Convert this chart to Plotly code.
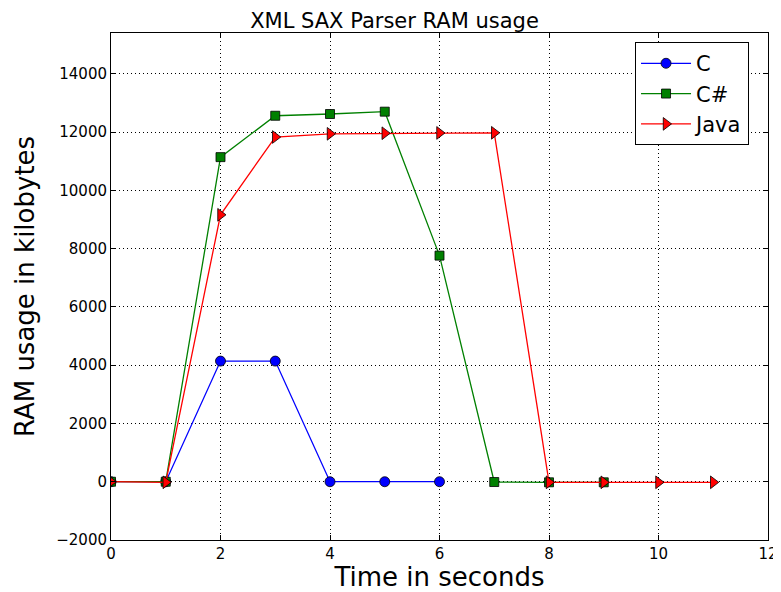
import plotly.graph_objects as go

c_x = [0, 1, 2, 3, 4, 5, 6]
c_y = [0, 0, 4140, 4140, 0, 0, 0]
cs_x = [0, 1, 2, 3, 4, 5, 6, 7, 8, 9]
cs_y = [0, 0, 11140, 12560, 12620, 12700, 7760, -10, -20, -20]
java_x = [0, 1, 2, 3, 4, 5, 6, 7, 8, 9, 10, 11]
java_y = [0, -20, 9160, 11830, 11940, 11960, 11970, 11975, -20, -20, -20, -20]
x_ticks = [0, 2, 4, 6, 8, 10, 12]
y_ticks = [-2000, 0, 2000, 4000, 6000, 8000, 10000, 12000, 14000]

fig = go.Figure()
fig.add_trace(go.Scatter(x=c_x, y=c_y, name="C", mode="lines+markers",
                         line=dict(color="#0000ff", width=1.3),
                         marker=dict(symbol="circle", size=10, color="#0000ff",
                                     line=dict(color="black", width=0.8))))
fig.add_trace(go.Scatter(x=cs_x, y=cs_y, name="C#", mode="lines+markers",
                         line=dict(color="#008000", width=1.3),
                         marker=dict(symbol="square", size=9, color="#008000",
                                     line=dict(color="black", width=0.8))))
fig.add_trace(go.Scatter(x=java_x, y=java_y, name="Java", mode="lines+markers",
                         line=dict(color="#ff0000", width=1.3),
                         marker=dict(symbol="triangle-right", size=11, color="#ff0000",
                                     line=dict(color="black", width=0.8))))

axis_common = dict(showline=True, linecolor="black", linewidth=1, mirror="ticks",
                   ticks="inside", ticklen=5, tickcolor="black", automargin=False,
                   showgrid=True, gridcolor="black", griddash="1px,3px", gridwidth=1,
                   zeroline=False, tickfont=dict(family="DejaVu Sans", size=15, color="black"))

# page body has an 8px margin, so the figure is shrunk and margins shifted
fig.update_layout(
    width=773, height=584,
    margin=dict(l=103, r=13, t=25, b=52),
    paper_bgcolor="white", plot_bgcolor="white",
    title=dict(text="XML SAX Parser RAM usage", x=0.5, xanchor="center", y=0.979, yanchor="middle",
               automargin=False,
               font=dict(family="DejaVu Sans", size=21, color="black")),
    xaxis=dict(range=[0, 12], tickvals=x_ticks, ticktext=[str(v) for v in x_ticks],
               title=dict(text="Time in seconds", font=dict(family="DejaVu Sans", size=26, color="black"), standoff=9),
               **axis_common),
    yaxis=dict(range=[-2000, 15400], tickvals=y_ticks, ticktext=[str(v).replace("-", "\u2212") for v in y_ticks],
               title=dict(text="RAM usage in kilobytes", font=dict(family="DejaVu Sans", size=26, color="black"), standoff=14),
               **axis_common),
    legend=dict(x=0.7976, y=0.982, xanchor="left", yanchor="top",
                bordercolor="black", borderwidth=1, bgcolor="white",
                font=dict(family="DejaVu Sans", size=21, color="black"),
                itemwidth=50),
    showlegend=True,
)

fig.write_html("out.html")
